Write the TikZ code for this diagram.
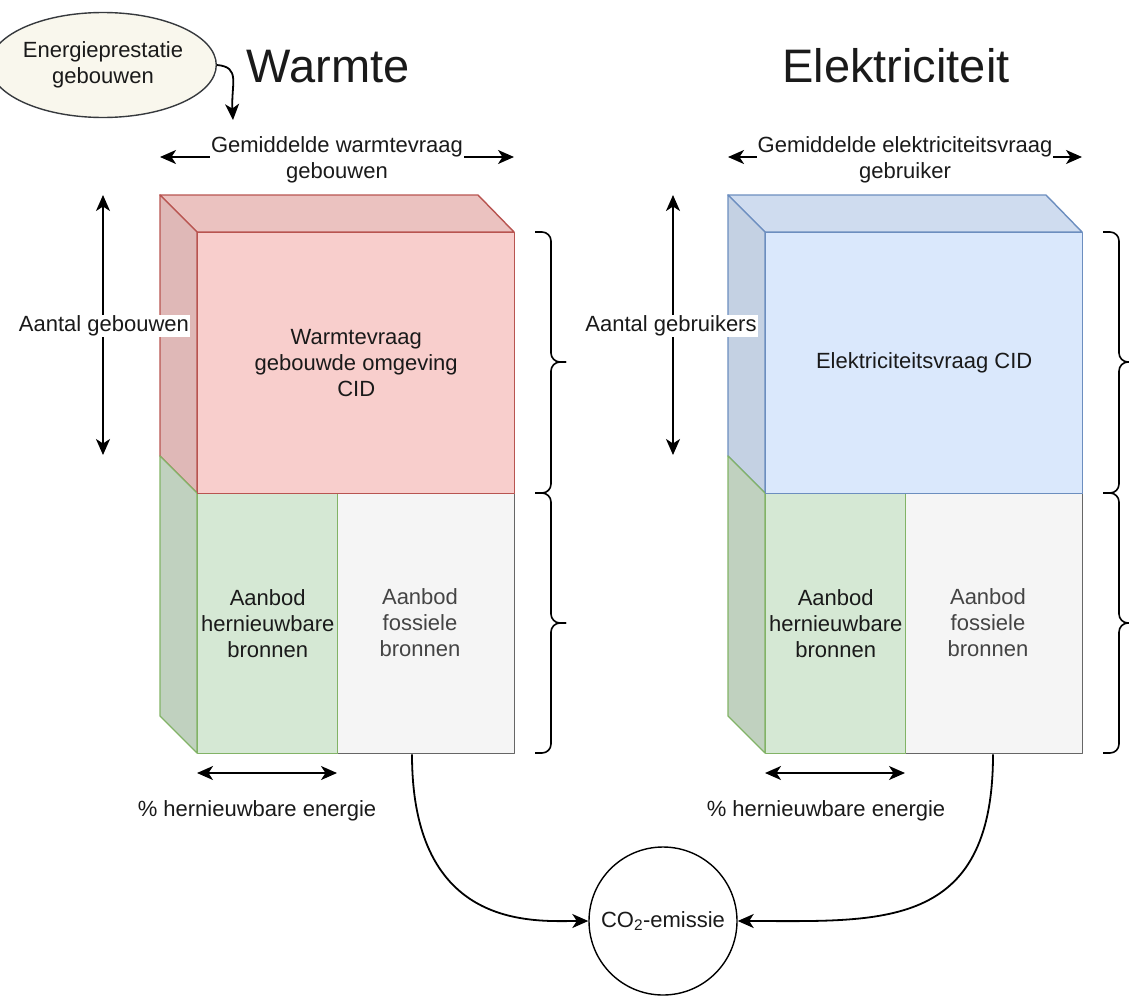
\documentclass[tikz,border=0pt]{standalone}
\usepackage{fontspec}
\setmainfont{Liberation Sans}
\usetikzlibrary{arrows.meta,shapes.geometric}
\definecolor{redF}{HTML}{F8CECC}
\definecolor{redT}{HTML}{EBC2C0}
\definecolor{redS}{HTML}{DFB8B7}
\definecolor{redL}{HTML}{B85450}
\definecolor{bluF}{HTML}{DAE8FC}
\definecolor{bluT}{HTML}{CFDCEF}
\definecolor{bluS}{HTML}{C4D1E3}
\definecolor{bluL}{HTML}{6C8EBF}
\definecolor{grnF}{HTML}{D5E8D4}
\definecolor{grnS}{HTML}{C0D1BF}
\definecolor{grnL}{HTML}{82B366}
\definecolor{gryF}{HTML}{F5F5F5}
\definecolor{gryL}{HTML}{666666}
\definecolor{gryT}{HTML}{444444}
\definecolor{beige}{HTML}{F9F7ED}
\definecolor{ellL}{HTML}{36393D}
\definecolor{ink}{HTML}{1A1A1A}
\begin{document}
\begin{tikzpicture}[x=1pt,y=-1pt,
  txt/.style={font=\fontsize{22}{26}\selectfont, align=center, text=ink, inner sep=1pt},
  face/.style={line width=1.4pt, line join=round},
  front/.style={face, draw, anchor=north west, minimum height=261, txt},
  arr/.style={line width=1.8pt, -{Stealth[length=16pt,width=14pt,inset=4.5pt]}},
  darr/.style={line width=1.8pt, {Stealth[length=16pt,width=14pt,inset=4.5pt]}-{Stealth[length=16pt,width=14pt,inset=4.5pt]}},
  bracex/.style={line width=1.6pt, rounded corners=9pt},
  title/.style={font=\fontsize{47}{56}\selectfont, text=ink, inner sep=0pt, anchor=base},
  wlab/.style={txt, fill=white}
]
\useasboundingbox (0,0) rectangle (1129,996);
\clip (0,0) rectangle (1129,996);

% ---------- Warmte cube ----------
\path[face, fill=redT, draw=redL] (160,195) -- (478,195) -- (514,232) -- (197,232) -- cycle;
\path[face, fill=redS, draw=redL] (160,195) -- (197,232) -- (197,493) -- (160,456) -- cycle;
\path[face, fill=grnS, draw=grnL] (160,456) -- (197,493) -- (197,753) -- (160,716) -- cycle;
\node[front, fill=gryF, draw=gryL, minimum width=177, minimum height=260] (wg) at (337,493) {};
\node[txt, text=gryT] (wgt) at (420,623) {Aanbod\\fossiele\\bronnen};
\node[front, fill=grnF, draw=grnL, minimum width=140, minimum height=260] (wh) at (197,493) {Aanbod\\hernieuwbare\\bronnen};
\node[front, fill=redF, draw=redL, minimum width=317] (wd) at (197,232) {Warmtevraag\\gebouwde omgeving\\CID};

% ---------- Elektriciteit cube ----------
\path[face, fill=bluT, draw=bluL] (728,195) -- (1046,195) -- (1082,232) -- (765,232) -- cycle;
\path[face, fill=bluS, draw=bluL] (728,195) -- (765,232) -- (765,493) -- (728,456) -- cycle;
\path[face, fill=grnS, draw=grnL] (728,456) -- (765,493) -- (765,753) -- (728,716) -- cycle;
\node[front, fill=gryF, draw=gryL, minimum width=177, minimum height=260] (eg) at (905,493) {};
\node[txt, text=gryT] (egt) at (988,623) {Aanbod\\fossiele\\bronnen};
\node[front, fill=grnF, draw=grnL, minimum width=140, minimum height=260] (eh) at (765,493) {Aanbod\\hernieuwbare\\bronnen};
\node[front, fill=bluF, draw=bluL, minimum width=317] (ed) at (765,232) {Elektriciteitsvraag CID};

% ---------- titles ----------
\node[title] (tw) at (328,82) {Warmte};
\node[title] (te) at (896,82) {Elektriciteit};

% ---------- Energieprestatie ellipse ----------
\node[ellipse, draw=ellL, fill=beige, line width=1.4pt, minimum width=189, minimum height=105, txt, inner sep=0pt] (ep) at (103,65) {Energieprestatie\\gebouwen};
\coordinate (epe) at (233,120);
\draw[arr] (ep.east) .. controls +(24,2) and +(-2,-36) .. (epe);

% ---------- dimension arrows (Warmte) ----------
\coordinate (wl) at (160,157);
\coordinate (wr) at (514,157);
\draw[darr] (wl) -- (wr);
\node[wlab] (wlb) at (337,160) {Gemiddelde warmtevraag\\gebouwen};
\coordinate (wt) at (103,195);
\coordinate (wb) at (103,455);
\draw[darr] (wt) -- (wb);
\node[wlab] (wvb) at (104,326) {Aantal gebouwen};
\coordinate (wpl) at (197,773);
\coordinate (wpr) at (337,773);
\draw[darr] (wpl) -- (wpr);
\node[txt] (wpb) at (257,811) {\% hernieuwbare energie};

% ---------- dimension arrows (Elektriciteit) ----------
\coordinate (el) at (728,157);
\coordinate (er) at (1082,157);
\draw[darr] (el) -- (er);
\node[wlab] (elb) at (905,160) {Gemiddelde elektriciteitsvraag\\gebruiker};
\coordinate (et) at (673,195);
\coordinate (eb) at (673,455);
\draw[darr] (et) -- (eb);
\node[wlab] (evb) at (671,326) {Aantal gebruikers};
\coordinate (epl) at (765,773);
\coordinate (epr) at (905,773);
\draw[darr] (epl) -- (epr);
\node[txt] (epb) at (826,811) {\% hernieuwbare energie};

% ---------- braces ----------
\draw[bracex] (535,232) -- (551,232) -- (551,362) -- (566,362);
\draw[bracex] (566,362) -- (551,362) -- (551,493) -- (535,493);
\draw[bracex] (535,493) -- (551,493) -- (551,623) -- (566,623);
\draw[bracex] (566,623) -- (551,623) -- (551,753) -- (535,753);
\draw[bracex] (1103,232) -- (1119,232) -- (1119,362) -- (1134,362);
\draw[bracex] (1134,362) -- (1119,362) -- (1119,493) -- (1103,493);
\draw[bracex] (1103,493) -- (1119,493) -- (1119,623) -- (1134,623);
\draw[bracex] (1134,623) -- (1119,623) -- (1119,753) -- (1103,753);

% ---------- CO2 ----------
\node[circle, draw, line width=1.4pt, minimum size=148, txt] (co2) at (663,921) {CO\textsubscript{2}-emissie};
\draw[arr] ([xshift=75pt]wg.south west) .. controls +(0,177) and +(-54,0) .. (co2.west);
\draw[arr] ([xshift=88pt]eg.south west) .. controls +(0,177) and +(143,0) .. (co2.east);
\end{tikzpicture}
\end{document}
